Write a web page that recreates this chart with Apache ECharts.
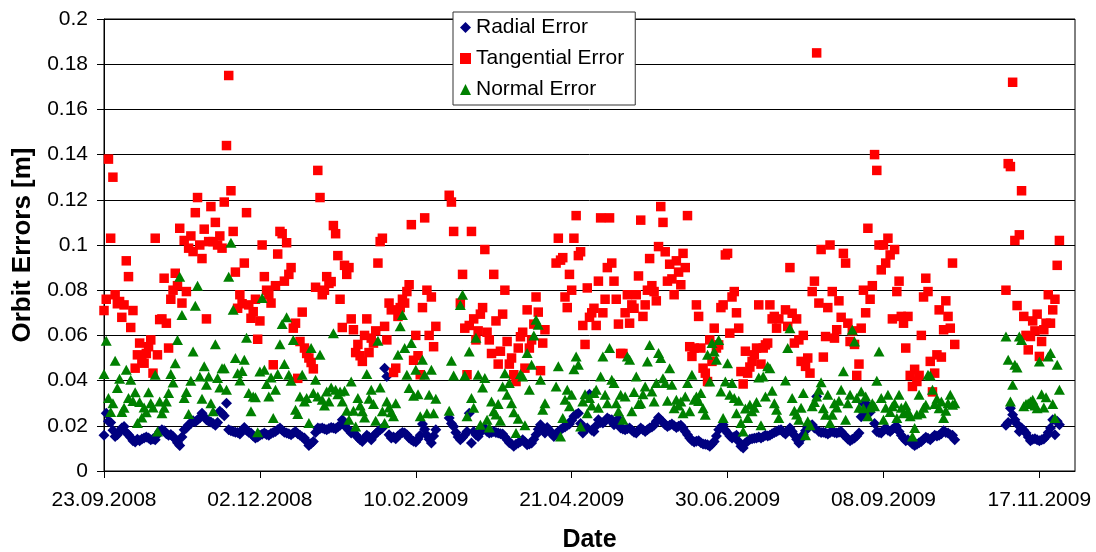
<!DOCTYPE html>
<html>
<head>
<meta charset="utf-8">
<script src="https://cdn.jsdelivr.net/npm/echarts@6/dist/echarts.min.js"></script>
<style>
html,body{margin:0;padding:0;background:#fff;}
#chart{width:1096px;height:552px;}
</style>
</head>
<body>
<div id="chart"></div>
<script>
// Day offsets are counted from the first date (index 0 = 23.09.2008); null = no data that day.
const startDateLabel = '23.09.2008';
const xTickDays = [0, 70, 140, 210, 280, 350, 420];
const xTickLabels = ['23.09.2008', '02.12.2008', '10.02.2009', '21.04.2009', '30.06.2009', '08.09.2009', '17.11.2009'];
const seriesNames = ['Radial Error', 'Tangential Error', 'Normal Error'];

const radial = [
/*0*/   0.0158,0.0256,0.022,0.0215,0.018,0.0153,0.016,0.0175,0.019,0.0197,
/*10*/  0.017,0.016,0.0148,0.0134,0.0128,0.014,0.0134,0.0142,0.0146,0.015,
/*20*/  0.0146,0.0138,0.0142,0.0138,0.016,0.0175,0.0183,0.0178,0.0165,0.0158,
/*30*/  0.0162,0.0153,0.014,0.0125,0.0113,0.015,0.0183,0.019,0.0205,0.021,
/*40*/  0.0222,0.0218,0.0227,0.0235,0.0256,0.024,0.0227,0.022,0.0217,0.021,
/*50*/  0.0202,0.0215,0.0264,0.0256,0.0245,0.030,0.0183,0.0178,0.0175,0.0172,
/*60*/  0.017,0.0164,0.018,0.0193,0.018,0.0172,0.0168,0.0155,0.0146,0.015,
/*70*/  0.0158,0.0163,0.0168,0.0162,0.0158,0.0166,0.017,0.0175,0.0182,0.019,
/*80*/  0.018,0.0172,0.0168,0.0165,0.016,0.0168,0.0175,0.0165,0.0158,0.015,
/*90*/  0.0146,0.013,0.0113,0.0122,0.0131,0.017,0.019,0.0188,0.019,0.0186,
/*100*/ 0.0183,0.0188,0.0193,0.019,0.0187,0.0195,0.0202,0.0227,0.0205,0.019,
/*110*/ 0.018,0.0168,0.0172,0.016,0.0148,0.0138,0.0131,0.0145,0.0158,0.015,
/*120*/ 0.0138,0.0155,0.0165,0.0175,0.0182,0.019,0.0455,0.0418,0.016,0.0146,
/*130*/ 0.015,0.0143,0.0155,0.0164,0.017,0.0168,0.016,0.0146,0.0138,0.0132,
/*140*/ 0.0128,0.0142,0.0158,0.0208,0.0185,0.0158,0.014,0.0124,0.0155,0.0183,
/*150*/ null,null,null,null,null,0.0234,0.021,0.0197,0.017,0.015,
/*160*/ 0.0138,0.0148,0.016,0.0175,0.0256,0.0124,0.0175,0.016,0.0153,0.017,
/*170*/ 0.0185,0.019,0.0175,0.0168,0.017,0.0175,0.017,0.0168,0.0165,0.0164,
/*180*/ 0.015,0.0138,0.0125,0.012,0.0109,0.0118,0.0124,0.013,0.0138,0.0128,
/*190*/ 0.0116,0.012,0.0124,0.014,0.016,0.0185,0.0205,0.018,0.0168,0.0193,
/*200*/ 0.018,0.0165,0.0153,0.0165,0.0175,0.0182,0.019,0.0195,0.0202,0.0208,
/*210*/ 0.0225,0.0242,0.025,0.0256,0.021,0.0168,0.0185,0.019,0.034,0.018,
/*220*/ 0.0175,0.02,0.0227,0.0215,0.0212,0.022,0.0234,0.0228,0.0227,0.0205,
/*230*/ 0.0218,0.0231,0.019,0.0186,0.0183,0.0187,0.019,0.018,0.0172,0.0168,
/*240*/ 0.018,0.019,0.0182,0.0175,0.0182,0.019,0.0195,0.0202,0.022,0.0237,
/*250*/ 0.0225,0.0217,0.0205,0.0197,0.0202,0.0208,0.02,0.0193,0.0198,0.0202,
/*260*/ 0.019,0.0175,0.016,0.0146,0.0135,0.0128,0.0132,0.0134,0.0125,0.0119,
/*270*/ 0.0118,0.0116,0.0109,0.012,0.0131,0.0155,0.0183,0.0195,0.0205,0.018,
/*280*/ 0.0168,0.0155,0.0146,0.0152,0.0158,0.013,0.011,0.0102,0.0124,0.0132,
/*290*/ 0.014,0.0143,0.0145,0.0146,0.015,0.0146,0.0152,0.0158,0.0155,0.0158,
/*300*/ 0.0165,0.017,0.0175,0.018,0.0183,0.0172,0.0164,0.0178,0.019,0.0175,
/*310*/ 0.0158,0.014,0.0124,0.0142,0.016,0.0178,0.0193,0.02,0.0205,0.019,
/*320*/ 0.033,0.0175,0.017,0.0172,0.0168,0.0164,0.017,0.0175,0.017,0.0168,
/*330*/ 0.0172,0.0175,0.0162,0.0153,0.0142,0.0134,0.014,0.0146,0.0155,0.0168,
/*340*/ 0.024,0.030,0.0255,0.029,0.026,0.0278,0.021,0.0175,0.017,0.0168,
/*350*/ 0.018,0.019,0.018,0.0175,0.0185,0.0192,0.0197,0.0175,0.0158,0.0145,
/*360*/ 0.0134,0.0138,0.0131,0.012,0.0113,0.0118,0.0125,0.0131,0.014,0.0149,
/*370*/ 0.0145,0.0138,0.0148,0.0158,0.0155,0.0158,0.0165,0.0178,0.017,0.0168,
/*380*/ 0.016,0.0158,0.0138,null,null,null,null,null,null,null,
/*390*/ null,null,null,null,null,null,null,null,null,null,
/*400*/ null,null,null,null,null,0.0202,0.0215,0.0278,0.0249,0.0227,
/*410*/ 0.0208,0.0175,0.019,0.018,0.0168,0.015,0.0134,0.014,0.0143,0.0138,
/*420*/ 0.0134,0.0138,0.0142,0.0153,0.017,0.019,0.0227,0.016,0.022,0.0205
];

const tangential = [
/*0*/   0.071,0.076,0.138,0.103,0.130,0.078,0.074,0.075,0.068,0.0735,
/*10*/  0.093,0.086,0.0635,0.071,0.0455,0.0514,0.0566,0.049,0.0477,0.052,
/*20*/  0.055,0.058,0.0433,0.103,0.0514,0.067,0.0673,0.0853,0.0654,0.0544,
/*30*/  0.076,0.080,0.0875,0.082,0.1074,0.0743,0.102,0.0794,0.0986,0.104,
/*40*/  0.0971,0.1143,0.121,0.100,0.094,0.107,0.0673,0.1015,0.117,0.1015,
/*50*/  0.110,0.100,0.104,0.0986,0.119,0.144,0.175,0.124,0.106,0.088,
/*60*/  0.072,0.078,0.074,0.092,0.1143,0.0735,0.0676,0.0705,0.076,0.0583,
/*70*/  0.0664,0.100,0.086,0.080,0.078,0.0743,0.047,0.082,0.096,0.106,
/*80*/  0.105,0.084,0.101,0.087,0.090,0.0632,0.0654,0.041,0.0573,0.0703,
/*90*/  0.0544,0.052,0.050,0.048,0.0452,0.0813,0.133,0.121,0.078,0.080,
/*100*/ 0.086,0.083,0.0838,0.1086,0.105,0.0953,0.076,0.0635,0.091,0.087,
/*110*/ 0.090,0.0673,0.0625,0.0524,0.056,0.051,0.0485,0.060,0.0673,0.0524,
/*120*/ 0.0588,0.0566,0.062,0.092,0.1015,0.103,0.064,0.058,0.0743,0.0713,
/*130*/ 0.0436,0.0455,0.0684,0.0723,0.076,0.0743,0.0794,0.0824,0.109,0.049,
/*140*/ 0.060,0.051,0.0426,0.0723,0.112,0.080,0.060,0.077,0.055,0.064,
/*150*/ null,null,null,null,null,0.122,0.119,0.106,null,null,
/*160*/ 0.0743,0.087,0.0632,0.0426,0.0644,0.106,0.0673,0.058,0.062,0.0694,
/*170*/ 0.0723,0.098,0.0614,0.058,0.052,0.087,0.0664,0.0473,0.053,0.0694,
/*180*/ 0.080,0.0573,0.0473,0.050,0.0426,0.0396,0.0544,0.0594,0.0614,0.0455,
/*190*/ 0.0713,0.0544,0.058,0.065,0.077,0.0703,0.0444,0.0566,0.0625,null,
/*200*/ null,null,null,0.092,0.103,0.0933,0.0944,0.077,0.0723,0.087,
/*210*/ 0.080,0.103,0.113,0.0953,0.097,0.0644,0.056,0.081,0.068,0.070,
/*220*/ 0.072,0.0644,0.084,0.112,0.070,0.076,0.090,0.112,0.092,0.084,
/*230*/ 0.076,0.065,0.052,0.052,0.070,0.078,0.0654,0.0735,0.072,0.078,
/*240*/ 0.0863,0.111,0.0684,0.0735,0.080,0.094,0.082,0.0794,0.0753,0.0993,
/*250*/ 0.117,0.110,0.097,0.084,0.0915,0.085,0.078,0.093,0.088,0.0824,
/*260*/ 0.0963,0.090,0.113,0.055,0.0507,0.0544,0.0735,0.0684,0.0544,0.0455,
/*270*/ 0.0433,0.0396,0.058,0.0485,0.0632,0.0544,0.0558,0.0723,0.0735,0.0956,
/*280*/ 0.0963,0.061,0.077,0.0794,0.070,0.0632,0.044,0.0385,0.053,0.0433,
/*290*/ 0.046,0.0485,0.0514,0.0544,0.0735,0.0473,0.0544,0.0558,0.0566,0.0735,
/*300*/ 0.0673,0.0684,0.0632,0.0673,null,null,0.0713,0.064,0.090,0.0698,
/*310*/ 0.0566,0.0673,0.058,0.0485,0.060,0.0463,0.050,0.0433,0.0794,0.084,
/*320*/ 0.185,0.0743,0.098,0.0504,0.0595,0.0723,0.100,0.0794,0.0588,0.0625,
/*330*/ 0.0753,0.068,0.0963,0.092,0.0654,0.0573,0.062,0.056,0.0423,0.0473,
/*340*/ 0.0632,0.080,0.070,0.1074,0.076,0.082,0.140,0.133,0.100,0.089,
/*350*/ 0.100,0.092,0.103,0.0956,0.0673,0.098,0.0794,0.084,0.0684,0.0654,
/*360*/ 0.0544,0.0684,0.0423,0.0374,0.045,0.0396,0.0423,0.060,0.077,0.0853,
/*370*/ 0.0794,0.0485,0.035,0.0433,0.0514,0.0713,0.0504,0.0625,0.0753,0.0684,
/*380*/ 0.0632,0.092,0.056,null,null,null,null,null,null,null,
/*390*/ null,null,null,null,null,null,null,null,null,null,
/*400*/ null,null,null,null,null,0.080,0.136,0.1347,0.172,0.102,
/*410*/ 0.0732,0.1045,0.124,0.0684,0.060,0.0536,0.0595,0.0664,0.062,0.0694,
/*420*/ 0.0507,0.0573,0.0625,0.0654,0.078,0.0654,0.0713,0.076,0.091,0.102
];

const normal = [
/*0*/   0.0429,0.0576,0.0323,0.0261,0.030,0.0488,0.0367,0.0408,0.0261,0.028,
/*10*/  0.0448,0.0323,0.0404,0.031,0.0348,0.0212,0.0305,0.0237,0.0281,0.026,
/*20*/  0.0348,0.030,0.0281,0.0426,0.0175,0.0308,0.0256,0.028,0.0308,0.0345,
/*30*/  0.0429,0.0392,0.0477,0.058,0.086,0.069,0.0323,0.035,0.0252,0.0399,
/*40*/  0.0529,0.0731,0.082,0.0418,0.032,0.0463,0.0382,0.0418,0.030,0.0264,
/*50*/  0.0561,0.0411,0.037,0.0455,0.0455,0.036,0.086,0.101,0.0713,0.050,
/*60*/  0.0433,0.040,0.0443,0.0492,0.059,0.0345,0.0264,0.033,0.0326,0.0171,
/*70*/  0.044,0.0765,0.0448,0.0385,0.033,0.0414,0.0234,0.036,0.0429,0.0561,
/*80*/  0.065,0.0473,0.068,0.0426,0.0399,0.058,0.0271,0.0252,0.033,0.0426,
/*90*/  0.0308,0.0323,0.0212,0.0544,0.0345,0.0404,0.033,0.0514,0.0315,0.029,
/*100*/ 0.0352,0.0308,0.037,0.061,0.036,0.034,0.0352,0.0308,0.0355,0.0267,
/*110*/ 0.0227,0.0396,0.0267,0.0197,0.0323,0.029,0.0264,0.0237,0.0429,0.032,
/*120*/ 0.036,0.0296,0.0222,0.0576,0.037,0.0264,0.0212,0.0308,0.0281,0.026,
/*130*/ 0.0242,0.030,0.0514,0.064,0.069,0.0544,0.0426,0.0367,0.0566,0.0333,
/*140*/ 0.0448,0.034,0.0242,0.0492,0.0426,0.0256,0.0337,0.0448,0.0256,0.032,
/*150*/ null,null,null,null,null,0.0267,0.0488,0.0423,null,null,
/*160*/ 0.0735,0.078,0.0423,0.0242,0.0529,0.0323,0.028,0.059,0.0426,0.0205,
/*170*/ 0.037,0.0411,0.0227,0.0193,0.0308,0.0264,0.025,0.0296,0.0222,0.0374,
/*180*/ 0.0433,0.0337,0.0389,0.030,0.026,0.0168,0.0231,0.0429,0.0418,0.0202,
/*190*/ 0.0522,0.036,0.047,0.06,0.0669,0.0647,0.0404,0.0271,0.030,null,
/*200*/ null,null,null,0.0374,0.0463,0.0153,0.0234,0.0315,0.036,0.0286,
/*210*/ 0.0337,0.045,0.0507,0.047,0.0197,0.0308,0.034,0.0256,0.0323,0.029,
/*220*/ 0.0345,0.036,0.028,0.0418,0.0507,0.0337,0.030,0.0544,0.0404,0.0389,
/*230*/ 0.030,0.0264,0.0337,0.0227,0.033,0.0507,0.0492,0.0264,0.035,0.0418,
/*240*/ 0.0296,0.030,0.034,0.0374,0.0485,0.0558,0.0352,0.0308,0.0389,0.0522,
/*250*/ 0.050,0.041,0.0389,0.0311,0.0455,0.0382,0.0278,0.0315,0.029,0.0308,
/*260*/ 0.0256,0.033,0.0389,0.0264,0.0426,0.0315,0.033,0.031,0.0345,0.0278,
/*270*/ 0.0249,0.0514,0.0396,0.0566,0.0529,0.0492,0.058,0.0352,0.0234,0.0396,
/*280*/ 0.0477,0.0337,0.0389,0.0323,0.0256,0.0311,0.0212,0.0175,0.0276,0.0234,
/*290*/ 0.0293,0.0264,0.028,0.0305,0.0414,0.0202,0.0418,0.033,0.0463,0.0455,
/*300*/ 0.0355,0.030,0.0271,0.0234,null,null,0.040,0.0544,0.0632,0.0323,
/*310*/ 0.0267,0.025,0.0227,0.028,0.0345,0.0158,0.022,0.0202,0.0286,0.0305,
/*320*/ 0.033,0.036,0.0393,0.0278,0.0249,0.0337,0.0212,0.0249,0.030,0.0281,
/*330*/ 0.0311,0.036,0.0441,0.0227,0.030,0.0337,0.0625,0.0573,0.0323,0.028,
/*340*/ 0.0352,0.0278,0.033,0.0242,0.0281,0.030,0.0286,0.0399,0.0529,0.0323,
/*350*/ 0.0227,0.028,0.0337,0.0261,0.0286,0.030,0.0234,0.0337,0.028,0.0256,
/*360*/ 0.029,0.0264,0.0242,0.0153,0.019,0.025,0.0337,0.0256,0.028,0.0293,
/*370*/ 0.0426,0.0423,0.036,0.0296,0.032,0.0278,0.0308,0.0234,0.0267,0.030,
/*380*/ 0.0337,0.0293,0.030,null,null,null,null,null,null,null,
/*390*/ null,null,null,null,null,null,null,null,null,null,
/*400*/ null,null,null,null,null,0.0595,0.0492,0.0308,0.0382,0.047,
/*410*/ 0.0458,0.0595,0.058,0.0286,0.0296,0.030,0.0308,0.0315,0.029,0.0278,
/*420*/ 0.0485,0.034,0.0281,0.0326,0.0507,0.0522,0.0296,0.0234,0.047,0.036
];

const FONT = '"Liberation Sans", Arial, sans-serif';

function toPairs(arr) {
  const out = [];
  arr.forEach((v, i) => { if (v !== null) out.push([i, v]); });
  return out;
}

const chart = echarts.init(document.getElementById('chart'), null, {renderer: 'canvas'});
const option = {
  animation: false,
  backgroundColor: '#ffffff',
  grid: {
    left: 104, right: 21, top: 19, bottom: 81,
    outerBoundsMode: 'none', containLabel: false,
    show: true, borderColor: '#000', borderWidth: 1, backgroundColor: 'rgba(0,0,0,0)'
  },
  legend: {
    orient: 'vertical',
    left: 453, top: 12,
    backgroundColor: '#fff',
    borderColor: '#333', borderWidth: 1,
    padding: [5, 11, 5, 7],
    itemGap: 10,
    itemWidth: 11, itemHeight: 11,
    textStyle: {fontSize: 21, color: '#000', fontFamily: FONT},
    data: [
      {name: seriesNames[0], icon: 'diamond'},
      {name: seriesNames[1], icon: 'rect'},
      {name: seriesNames[2], icon: 'triangle'}
    ]
  },
  xAxis: {
    type: 'value', min: 0, max: 436, interval: 70,
    axisLine: {show: true, onZero: false, lineStyle: {color: '#000', width: 1}},
    axisTick: {show: true, length: 7, customValues: xTickDays, lineStyle: {color: '#000'}},
    splitLine: {show: false},
    axisLabel: {
      customValues: xTickDays,
      fontSize: 21, color: '#000', fontFamily: FONT, margin: 19,
      formatter: function (v) { const k = xTickDays.indexOf(Math.round(v)); return k >= 0 ? xTickLabels[k] : ''; }
    },
    name: 'Date', nameLocation: 'middle', nameGap: 57,
    nameTextStyle: {fontSize: 25, fontWeight: 'bold', color: '#000', fontFamily: FONT}
  },
  yAxis: {
    type: 'value', min: 0, max: 0.2, interval: 0.02,
    axisLine: {show: true, lineStyle: {color: '#000', width: 1}},
    axisTick: {show: true, length: 7, lineStyle: {color: '#000'}},
    splitLine: {show: true, lineStyle: {color: '#000', width: 1}},
    axisLabel: {fontSize: 21, color: '#000', fontFamily: FONT, margin: 16},
    name: 'Orbit Errors [m]', nameLocation: 'middle', nameGap: 64,
    nameTextStyle: {fontSize: 26, fontWeight: 'bold', color: '#000', fontFamily: FONT}
  },
  series: [
    {name: seriesNames[0], type: 'scatter', symbol: 'diamond', symbolSize: 11,
     itemStyle: {color: '#000080', opacity: 1}, data: toPairs(radial)},
    {name: seriesNames[1], type: 'scatter', symbol: 'rect', symbolSize: 9.5,
     itemStyle: {color: '#ff0000', opacity: 1}, data: toPairs(tangential)},
    {name: seriesNames[2], type: 'scatter', symbol: 'triangle', symbolSize: [11, 10],
     itemStyle: {color: '#008000', opacity: 1}, data: toPairs(normal)}
  ]
};
chart.setOption(option);
</script>
</body>
</html>
